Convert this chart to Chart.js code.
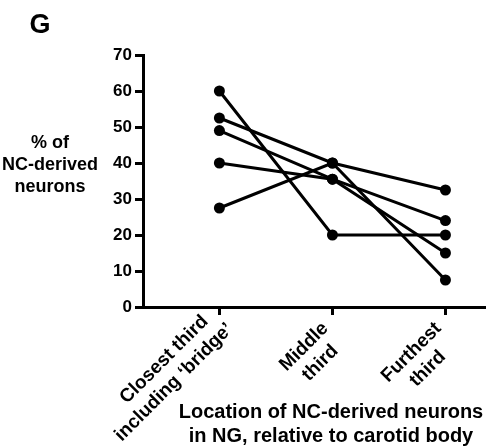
<!DOCTYPE html>
<html>
<head>
<meta charset="utf-8">
<script src="https://cdn.jsdelivr.net/npm/chart.js@4"></script>
<style>
  html, body { margin: 0; padding: 0; background: #fff; }
  #wrap { width: 491px; height: 446px; }
</style>
</head>
<body>
<div id="wrap"><canvas id="chart" width="491" height="446"></canvas></div>
<script>
// categories along the x axis (two lines each)
const categories = [
  ['Closest third', 'including \u2018bridge\u2019'],
  ['Middle', 'third'],
  ['Furthest', 'third']
];
// one array per animal / line, values at closest, middle, furthest
const series1 = [60, 20, 20];
const series2 = [52.5, 40, 32.5];
const series3 = [49, 35.5, 24];
const series4 = [40, 35.5, 15];
const series5 = [27.5, 40, 7.5];
const allSeries = [series1, series2, series3, series4, series5];

const yTicks = [0, 10, 20, 30, 40, 50, 60, 70];
const yTitle = ['% of', 'NC-derived', 'neurons'];
const xTitle = ['Location of NC-derived neurons', 'in NG, relative to carotid body'];
const panelLabel = 'G';

const FONT = "'Liberation Sans', Arial, Helvetica, sans-serif";

const datasets = allSeries.map((vals, i) => ({
  label: 'line ' + (i + 1),
  data: vals.map((v, j) => ({ x: j, y: v })),
  borderColor: '#000',
  backgroundColor: '#000',
  borderWidth: 3,
  pointRadius: 5.5,
  pointBorderWidth: 0,
  pointBackgroundColor: '#000',
  tension: 0
}));

// texts outside the axes, plus the slanted category labels (centred lines like the original)
const textPlugin = {
  id: 'texts',
  afterDraw(chart) {
    const ctx = chart.ctx;
    const xs = chart.scales.x;
    ctx.save();
    ctx.fillStyle = '#000';

    ctx.textAlign = 'center';
    ctx.textBaseline = 'alphabetic';
    ctx.font = 'bold 27px ' + FONT;
    ctx.fillText(panelLabel, 40, 33);

    ctx.font = 'bold 18px ' + FONT;
    yTitle.forEach((t, i) => ctx.fillText(t, 50, 148 + i * 22));

    ctx.font = 'bold 20px ' + FONT;
    xTitle.forEach((t, i) => ctx.fillText(t, 331, 418 + i * 24));

    // category labels at 45 degrees; first line ends just short of the tick
    ctx.font = 'bold 19px ' + FONT;
    ctx.textBaseline = 'middle';
    const lineH = 23;
    const yTop = chart.chartArea.bottom + 8;
    const nudge = [-10, 0, 0];     // the long first label sits a little higher in the original
    const nudgeLine2 = [-9, 0, 0]; // and its second line starts a bit further back
    categories.forEach((lines, i) => {
      const px = xs.getPixelForValue(i);
      const w0 = ctx.measureText(lines[0]).width;
      const cx = -12.5 - w0 / 2;
      ctx.save();
      ctx.translate(px, yTop);
      ctx.rotate(-Math.PI / 4);
      lines.forEach((l, k) => {
        ctx.fillText(l, cx + (k > 0 ? nudgeLine2[i] : 0), 2.5 + nudge[i] + k * lineH);
      });
      ctx.restore();
    });
    ctx.restore();
  }
};

new Chart(document.getElementById('chart').getContext('2d'), {
  type: 'line',
  data: { datasets: datasets },
  options: {
    responsive: false,
    animation: false,
    layout: { padding: { top: 55, right: 6, left: 0, bottom: 0 } },
    plugins: { legend: { display: false }, tooltip: { enabled: false } },
    scales: {
      x: {
        type: 'linear',
        min: -0.676,
        max: 2.35,
        afterBuildTicks: (scale) => { scale.ticks = categories.map((c, i) => ({ value: i })); },
        afterFit: (scale) => { scale.height = 139; },
        grid: { drawOnChartArea: false, drawTicks: true, tickLength: 8, tickWidth: 3, tickColor: '#000' },
        border: { display: true, color: '#000', width: 3 },
        ticks: { display: false }
      },
      y: {
        min: 0,
        max: 70,
        afterBuildTicks: (scale) => { scale.ticks = yTicks.map(v => ({ value: v })); },
        afterFit: (scale) => { scale.width = 143; },
        grid: { drawOnChartArea: false, drawTicks: true, tickLength: 8, tickWidth: 3, tickColor: '#000' },
        border: { display: true, color: '#000', width: 3 },
        ticks: {
          color: '#000',
          font: { family: FONT, size: 17, weight: 'bold' },
          padding: 3
        }
      }
    }
  },
  plugins: [textPlugin]
});
</script>
</body>
</html>
